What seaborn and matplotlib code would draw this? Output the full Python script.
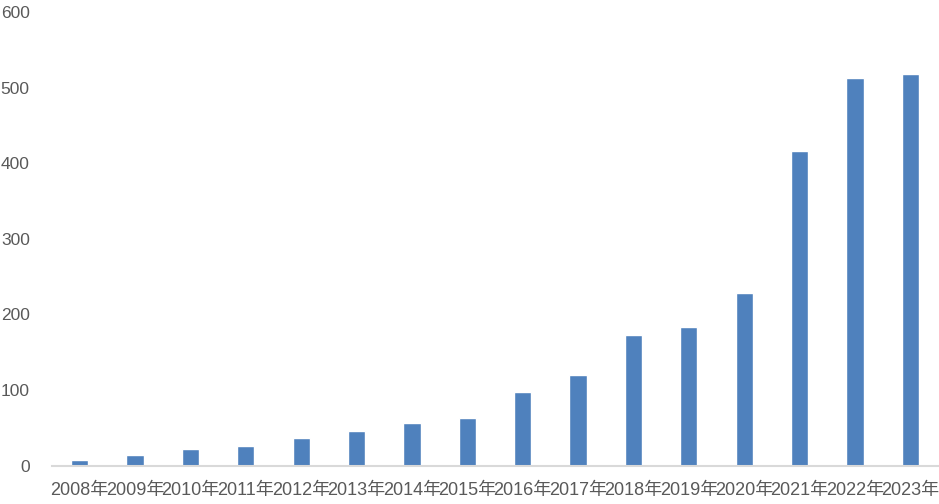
import matplotlib
matplotlib.use('Agg')
import matplotlib.pyplot as plt
import seaborn as sns
import pandas as pd

# data
years = ['2008年', '2009年', '2010年', '2011年', '2012年', '2013年', '2014年', '2015年',
         '2016年', '2017年', '2018年', '2019年', '2020年', '2021年', '2022年', '2023年']
counts = [8, 14, 22, 26, 37, 46, 57, 63, 97, 120, 173, 184, 229, 416, 513, 518]

df = pd.DataFrame({'year': years, 'count': counts})

sns.set_theme(style='white')
plt.rcParams['font.family'] = ['Liberation Sans', 'Noto Sans CJK SC', 'DejaVu Sans']

fig = plt.figure(figsize=(9.39, 5.04), dpi=100)
ax = fig.add_axes([52 / 939, 38.3 / 504, 886 / 939, 453.7 / 504])

sns.barplot(data=df, x='year', y='count', color='#4F81BD', width=0.31,
            saturation=1, ax=ax)

ax.set_ylim(0, 600)
ax.set_yticks([0, 100, 200, 300, 400, 500, 600])
ax.set_xlim(-0.5, len(years) - 0.5)
ax.set_xlabel('')
ax.set_ylabel('')

for s in ['top', 'right', 'left']:
    ax.spines[s].set_visible(False)
ax.spines['bottom'].set_color('#D9D9D9')
ax.spines['bottom'].set_linewidth(1.5)

ax.tick_params(axis='both', length=0, colors='#595959')
ax.tick_params(axis='y', pad=16, labelsize=12.5)
ax.tick_params(axis='x', pad=12, labelsize=13)

fig.savefig('out.png', dpi=100)
